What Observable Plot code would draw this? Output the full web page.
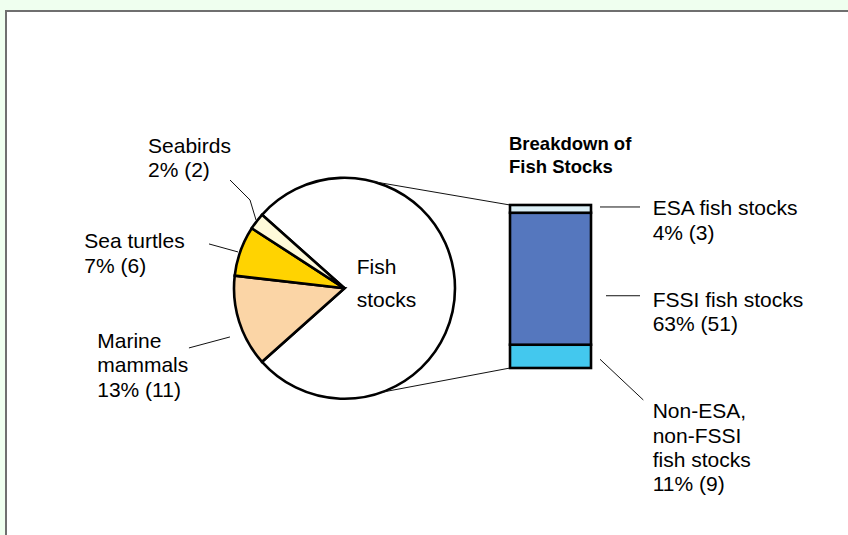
<!DOCTYPE html>
<html>
<head>
<meta charset="utf-8">
<script src="https://cdn.jsdelivr.net/npm/d3@7"></script>
<script src="https://cdn.jsdelivr.net/npm/@observablehq/plot@0.6"></script>
<style>
  html, body { margin: 0; padding: 0; width: 848px; height: 535px; overflow: hidden; background: #EFFFEF; }
  #panel { position: absolute; left: 5px; top: 10px; right: 0; bottom: 0; background: #ffffff;
           border-top: 2px solid #6f6f6f; border-left: 2px solid #6f6f6f; }
  #chart { position: absolute; left: 0; top: 0; }
</style>
</head>
<body>
<div id="panel"></div>
<div id="chart"></div>
<script>
// ---------------- data ----------------
const pieCategories = ["Fish stocks", "Marine mammals", "Sea turtles", "Seabirds"];
const pieCounts = [63, 11, 6, 2];
const piePercents = [77, 13, 7, 2];
const pieLabelNames = ["Fish\nstocks", "Marine\nmammals", "Sea turtles", "Seabirds"];

const barCategories = ["Non-ESA, non-FSSI fish stocks", "FSSI fish stocks", "ESA fish stocks"];
const barCounts = [9, 51, 3];
const barPercents = [11, 63, 4];
const barLabelNames = ["Non-ESA,\nnon-FSSI\nfish stocks", "FSSI fish stocks", "ESA fish stocks"];
const barParent = "Fish stocks";
const barTitle = ["Breakdown of", "Fish Stocks"];

// ---------------- styles ----------------
const pieColors = ["#FFFFFF", "#FBD5A6", "#FFD301", "#FFFAD9"];
const barColors = ["#43C8EE", "#5577BE", "#DCEFF6"];
const FONT = "'Liberation Sans', Arial, Helvetica, sans-serif";
const FS = 21, LH = 24.3;

// ---------------- layout ----------------
const W = 848, H = 535;
const PIE = {cx: 344.5, cy: 288.3, r: 110.5, lineAngles: [15, 160]};
const BAR = {x0: 510, x1: 591, yTop: 205, yBottom: 368};
const pieLabelLayout = {
  "Fish stocks":    {inside: true, dx: 12.2, dy: -14.8, lh: 33},
  "Marine mammals": {dx: -141.9, dy: 26.3, leader: [[-9.2, 15.3], [-50.2, 26.3]]},
  "Sea turtles":    {dx: -156.2, dy: -2.7, leader: [[-2.5, 1], [-31.5, -7]]},
  "Seabirds":       {dx: -108.6, dy: -68.3, leader: [[-0.6, -1.3], [-6.6, -21.3], [-26.6, -41.3]]}
};
const barLabelLayout = {
  "ESA fish stocks":               {dx: 61.7, dy: 6.6,  leader: [[9, -1.9], [49, -1.9]]},
  "FSSI fish stocks":              {dx: 61.7, dy: 28,   leader: [[15, 17], [49, 17]]},
  "Non-ESA, non-FSSI fish stocks": {dx: 61.7, dy: 61.9, leader: [[9, 2.9], [52.3, 43.6]]}
};

// ---------------- tables ----------------
const pieRows = pieCategories.map((name, i) => ({name, count: pieCounts[i], pct: piePercents[i], label: pieLabelNames[i]}));
const barRows = barCategories.map((name, i) => ({name, parent: barParent, count: barCounts[i], pct: barPercents[i], label: barLabelNames[i]}));

function addText(g, x, y, lines, opts = {}) {
  const t = g.append("text")
    .attr("x", x).attr("y", y)
    .attr("text-anchor", "start")
    .attr("font-family", FONT)
    .attr("font-size", opts.size || FS)
    .attr("font-weight", opts.weight || "normal")
    .attr("fill", "#000");
  lines.forEach((line, i) => {
    t.append("tspan").attr("x", x).attr("y", y + i * (opts.lh || LH)).text(line);
  });
}

function pieMark(index, scales, values, dimensions, context) {
  const g = d3.create("svg:g");
  const color = scales.color || (d => pieColors[pieCategories.indexOf(d)]);
  const total = d3.sum(pieRows, d => d.count);
  const half = Math.PI * pieRows[0].count / total;
  const start = Math.PI / 2 - half;
  const arcs = d3.pie().sort(null).value(d => d.count)
    .startAngle(start).endAngle(start + 2 * Math.PI)(pieRows);
  const arc = d3.arc().innerRadius(0).outerRadius(PIE.r);
  const pg = g.append("g").attr("transform", `translate(${PIE.cx},${PIE.cy})`);
  pg.selectAll("path").data(arcs).join("path")
    .attr("d", arc)
    .attr("fill", d => color(d.data.name))
    .attr("stroke", "#000")
    .attr("stroke-width", 2.6)
    .attr("stroke-linejoin", "miter");

  // connector lines from pie to the bar's corners
  const xL = scales.x(barParent);
  const yT = scales.y(d3.sum(barRows, d => d.count));
  const yB = scales.y(0);
  const corners = [[xL, yT], [xL, yB]];
  PIE.lineAngles.forEach((a, i) => {
    const rad = a * Math.PI / 180;
    const px = PIE.cx + PIE.r * Math.sin(rad), py = PIE.cy - PIE.r * Math.cos(rad);
    g.append("line").attr("x1", px).attr("y1", py)
      .attr("x2", corners[i][0]).attr("y2", corners[i][1])
      .attr("stroke", "#111").attr("stroke-width", 1);
  });

  // labels + leader lines
  arcs.forEach(d => {
    const L = pieLabelLayout[d.data.name];
    const mid = (d.startAngle + d.endAngle) / 2;
    let ax, ay;
    if (L.inside) { ax = PIE.cx; ay = PIE.cy; }
    else { ax = PIE.cx + PIE.r * Math.sin(mid); ay = PIE.cy - PIE.r * Math.cos(mid); }
    if (L.leader) {
      g.append("polyline")
        .attr("points", L.leader.map(([dx, dy]) => `${ax + dx},${ay + dy}`).join(" "))
        .attr("fill", "none").attr("stroke", "#111").attr("stroke-width", 1);
    }
    const lines = d.data.label.split("\n");
    if (!L.inside) lines.push(`${d.data.pct}% (${d.data.count})`);
    addText(g, ax + L.dx, ay + L.dy, lines, {lh: L.lh});
  });

  // bar labels
  const xR = xL + scales.x.bandwidth();
  let cum = 0;
  barRows.forEach(d => {
    const ym = scales.y(cum + d.count / 2);
    cum += d.count;
    const L = barLabelLayout[d.name];
    g.append("polyline")
      .attr("points", L.leader.map(([dx, dy]) => `${xR + dx},${ym + dy}`).join(" "))
      .attr("fill", "none").attr("stroke", "#111").attr("stroke-width", 1);
    const lines = d.label.split("\n");
    lines.push(`${d.pct}% (${d.count})`);
    addText(g, xR + L.dx, ym + L.dy, lines);
  });

  // bar title
  addText(g, xL - 1, yT - 55.5, barTitle, {weight: "bold", size: 18.5, lh: 23.5});
  return g.node();
}

const chart = Plot.plot({
  width: W,
  height: H,
  margin: 0,
  style: {background: "transparent", overflow: "visible"},
  x: {type: "band", domain: [barParent], range: [BAR.x0, BAR.x1], padding: 0, axis: null},
  y: {domain: [0, d3.sum(barCounts)], range: [BAR.yBottom, BAR.yTop], axis: null},
  color: {type: "ordinal", domain: [...pieCategories, ...barCategories], range: [...pieColors, ...barColors]},
  marks: [
    pieMark,
    Plot.barY(barRows, {x: "parent", y: "count", fill: "name", stroke: "#000", strokeWidth: 2.6})
  ]
});
document.getElementById("chart").appendChild(chart);
</script>
</body>
</html>
